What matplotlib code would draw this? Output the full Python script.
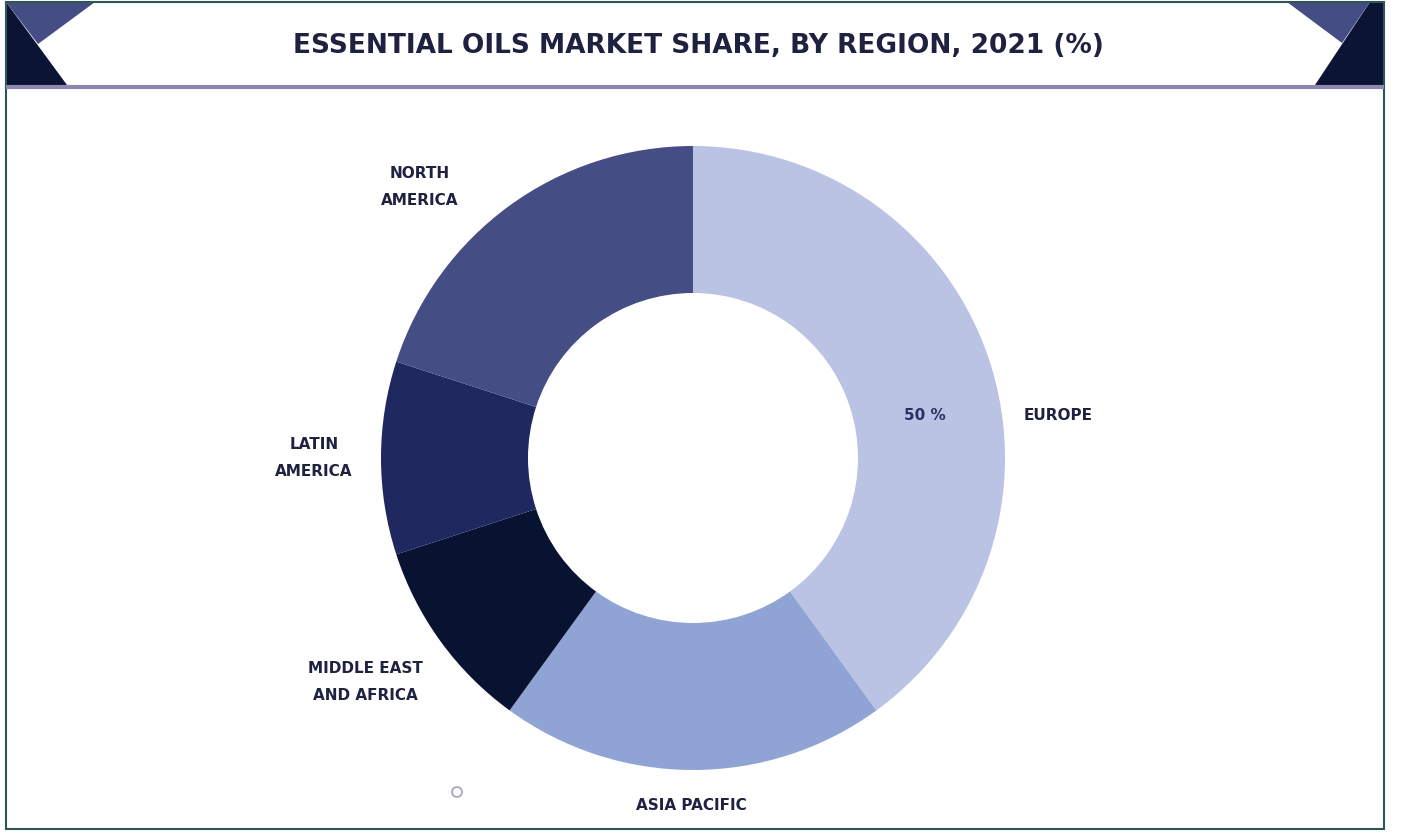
import matplotlib.pyplot as plt
from matplotlib.patches import Polygon, Rectangle, Circle

regions = ["EUROPE", "ASIA PACIFIC", "MIDDLE EAST\nAND AFRICA", "LATIN\nAMERICA", "NORTH\nAMERICA"]
shares = [40, 20, 10, 10, 20]
colors = ["#BAC3E3", "#8FA4D4", "#081332", "#202860", "#454D85"]
europe_label = "50 %"
title = "ESSENTIAL OILS MARKET SHARE, BY REGION, 2021 (%)"

plt.rcParams['font.family'] = ['DejaVu Sans']

W, H = 1403, 835
fig = plt.figure(figsize=(W / 100, H / 100), dpi=100)
ax = fig.add_axes([0, 0, 1, 1])

def Y(y):
    # picture rows run top-down
    return H - y

cx, cy, R = 693, 458, 312
ax.pie(shares, colors=colors, startangle=90, counterclock=False,
       center=(cx, Y(cy)), radius=R, wedgeprops=dict(width=147, linewidth=0))

# header band
ax.add_patch(Polygon([(6, Y(2)), (67, Y(85)), (6, Y(85))], color="#0B1435", lw=0))
ax.add_patch(Polygon([(6, Y(2)), (95, Y(2)), (38, Y(44))], color="#454D85", lw=0))
ax.add_patch(Polygon([(1370, Y(2)), (1384, Y(2)), (1384, Y(85)), (1315, Y(85))], color="#0B1435", lw=0))
ax.add_patch(Polygon([(1287, Y(2)), (1370, Y(2)), (1342, Y(43))], color="#454D85", lw=0))
ax.plot([6, 1384], [Y(87), Y(87)], color="#8C87AE", lw=3, solid_capstyle="butt")
ax.add_patch(Rectangle((6, Y(829)), 1378, 827, fill=False, edgecolor="#2E5656", lw=1.5))

txt = "#1E2240"
ax.text(698, Y(46), title, ha="center", va="center", fontsize=19, fontweight="bold",
        color=txt)

label_pos = [(1058, 415), (691, 806), (365, 682), (314, 458), (420, 187)]
for name, (lx, ly) in zip(regions, label_pos):
    ax.text(lx, Y(ly), name, ha="center", va="center", fontsize=11, fontweight="bold",
            color=txt, linespacing=2.0)
ax.text(925, Y(415), europe_label, ha="center", va="center", fontsize=11,
        fontweight="bold", color="#2A3160")

ax.add_patch(Circle((457, Y(792)), 5, fill=False, edgecolor="#A9A6C4", lw=1.3))

ax.set_xlim(0, W)
ax.set_ylim(0, H)
ax.set_aspect("auto")
ax.axis("off")
fig.savefig("out.png", dpi=100)
